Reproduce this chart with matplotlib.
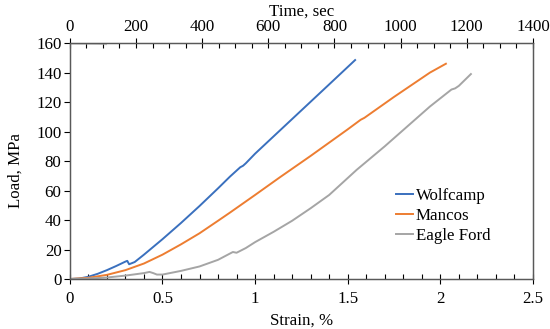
import matplotlib
matplotlib.use("Agg")
import matplotlib.pyplot as plt
import matplotlib.ticker as ticker
import numpy as np

plt.rcParams['font.family'] = ['Liberation Serif', 'DejaVu Serif']

# strain (%) / load (MPa)
wolf_strain = [0, 0.05, 0.1, 0.15, 0.2, 0.25, 0.3, 0.31, 0.32, 0.35, 0.4, 0.5, 0.6, 0.7,
               0.8, 0.864, 0.92, 0.935, 0.95, 1.0, 1.2, 1.4, 1.54]
wolf_load = [0, 0.3, 1.5, 3.5, 6, 8.8, 11.8, 12.3, 10, 11.5, 16.5, 27, 38, 49.5,
             61.5, 69.4, 75.8, 76.8, 78.5, 85, 108.5, 132, 148.5]

mancos_strain = [0, 0.1, 0.2, 0.3, 0.4, 0.5, 0.6, 0.7, 0.8, 0.864, 1.0, 1.134, 1.3,
                 1.5, 1.57, 1.59, 1.75, 1.944, 2.03]
mancos_load = [0, 0.8, 2.8, 6, 10.5, 16.5, 23.5, 31, 39.5, 45, 57, 69, 83.5,
               101.5, 108, 109.3, 123.5, 140, 146]

eagle_strain = [0, 0.1, 0.2, 0.3, 0.4, 0.43, 0.45, 0.47, 0.5, 0.6, 0.7, 0.8, 0.88, 0.9,
                0.95, 1.0, 1.1, 1.2, 1.3, 1.4, 1.548, 1.7, 1.944, 2.06, 2.08, 2.1, 2.165]
eagle_load = [0, 0.3, 1, 2.3, 4, 4.8, 4, 3, 3, 5.5, 8.5, 13, 18.3, 17.8,
              21, 25, 32, 39.5, 48, 57, 74, 90, 117, 128.5, 129.3, 131, 139]

# short trace hugging the top axis (time, sec)
top_time = [0, 40, 80, 110]
top_load = [159.6, 159.5, 159.4, 159.2]

colors = ['#3A70BE', '#ED7D31', '#A5A5A5']
fs = 12.2

fig, ax = plt.subplots(figsize=(5.5, 3.29), dpi=100)
fig.subplots_adjust(left=0.127, right=0.969, bottom=0.152, top=0.869)

ax.plot(wolf_strain, wolf_load, color=colors[0], lw=1.4, label='Wolfcamp')
ax.plot(mancos_strain, mancos_load, color=colors[1], lw=1.4, label='Mancos')
ax.plot(eagle_strain, eagle_load, color=colors[2], lw=1.4, label='Eagle Ford')

ax.set_xlim(0, 2.5)
ax.set_ylim(0, 160)
ax.xaxis.set_major_locator(ticker.MultipleLocator(0.5))
ax.xaxis.set_minor_locator(ticker.MultipleLocator(0.1))
ax.yaxis.set_major_locator(ticker.MultipleLocator(20))
ax.xaxis.set_major_formatter(ticker.FuncFormatter(lambda v, p: f'{v:g}'))
ax.tick_params(axis='x', which='major', direction='inout', length=7, width=0.8, labelsize=fs, pad=5)
ax.tick_params(axis='x', which='minor', direction='in', length=3.5, width=0.8)
ax.tick_params(axis='y', which='major', direction='out', length=4, width=0.8, labelsize=fs, pad=2)
ax.set_xlabel('Strain, %', fontsize=fs, labelpad=4)
ax.set_ylabel('Load, MPa', fontsize=fs)
ax.yaxis.set_label_coords(-0.10, 0.46)

ax2 = ax.twiny()
ax2.plot(top_time, top_load, color=colors[2], lw=1.2, alpha=0.7)
ax2.set_xlim(0, 1400)
ax2.xaxis.set_major_locator(ticker.MultipleLocator(200))
ax2.xaxis.set_minor_locator(ticker.MultipleLocator(50))
ax2.tick_params(axis='x', which='major', direction='inout', length=7, width=0.8, labelsize=fs, pad=2)
ax2.tick_params(axis='x', which='minor', direction='in', length=3.5, width=0.8)
ax2.set_xlabel('Time, sec', fontsize=fs, labelpad=3)

for a in (ax, ax2):
    for s in a.spines.values():
        s.set_color('#595959')
        s.set_linewidth(0.9)

ax.legend(loc='upper left', bbox_to_anchor=(0.705, 0.385), frameon=False, fontsize=fs,
          handlelength=1.0, handletextpad=0.15, labelspacing=0.22, borderaxespad=0,
          borderpad=0)

fig.savefig('out.png', dpi=100)
